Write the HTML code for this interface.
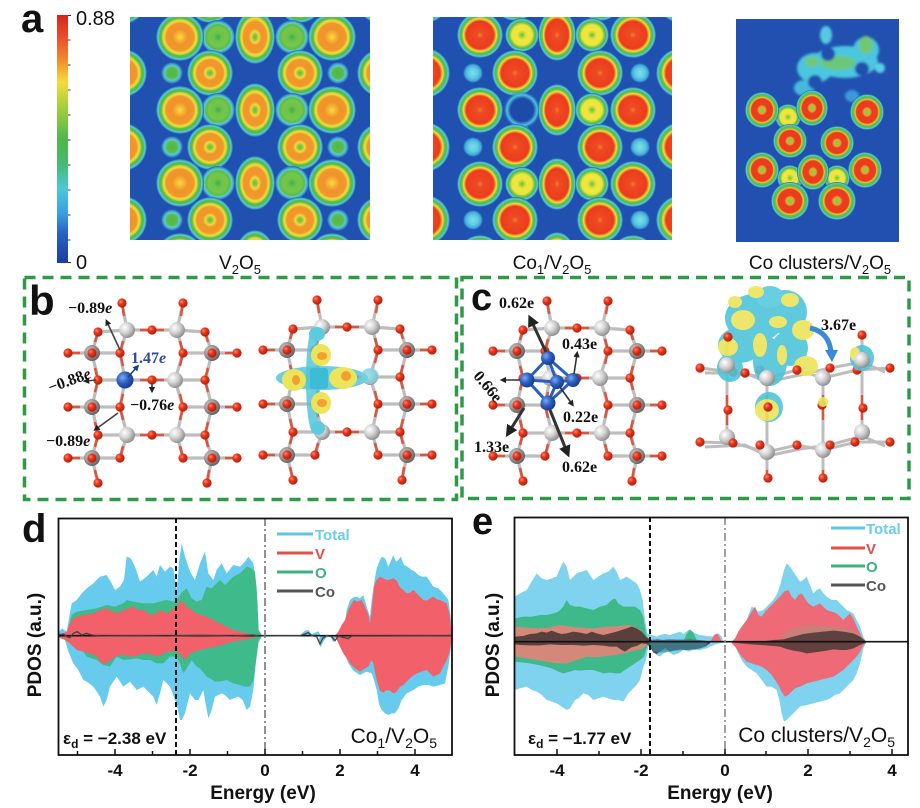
<!DOCTYPE html>
<html><head><meta charset="utf-8"><style>
html,body{margin:0;padding:0;background:#fff;}
svg{display:block;}
.sans{font-family:"Liberation Sans",Arial,sans-serif;}
.serif{font-family:"Liberation Serif","Times New Roman",serif;}
</style></head><body>
<svg width="920" height="808" viewBox="0 0 920 808" xmlns="http://www.w3.org/2000/svg">
<defs>
<linearGradient id="cbar" x1="0" y1="0" x2="0" y2="1">
<stop offset="0" stop-color="#d8241c"/><stop offset=".08" stop-color="#e8482a"/><stop offset=".18" stop-color="#f08a2c"/><stop offset=".27" stop-color="#f5dc3a"/><stop offset=".37" stop-color="#a6cf3c"/><stop offset=".5" stop-color="#4eb84a"/><stop offset=".6" stop-color="#46ba70"/><stop offset=".7" stop-color="#4cc8d8"/><stop offset=".8" stop-color="#3a9ede"/><stop offset=".88" stop-color="#2662c2"/><stop offset="1" stop-color="#1c3e9e"/>
</linearGradient>
<radialGradient id="gA"><stop offset="0" stop-color="#f6df3c"/><stop offset=".18" stop-color="#f4b232"/><stop offset=".33" stop-color="#f0922c"/><stop offset=".58" stop-color="#f0982c"/><stop offset=".66" stop-color="#f6d838"/><stop offset=".72" stop-color="#c8d83c"/><stop offset=".78" stop-color="#5cbc48"/><stop offset=".86" stop-color="#4cbd5a"/><stop offset=".91" stop-color="#5ad0d0"/><stop offset=".97" stop-color="#3a8ad0"/><stop offset="1" stop-color="#2051b0"/></radialGradient>
<radialGradient id="gD"><stop offset="0" stop-color="#58bc48"/><stop offset=".12" stop-color="#9ccd3c"/><stop offset=".2" stop-color="#f4d83a"/><stop offset=".32" stop-color="#f0962c"/><stop offset=".58" stop-color="#f0982c"/><stop offset=".66" stop-color="#f6d838"/><stop offset=".72" stop-color="#c8d83c"/><stop offset=".78" stop-color="#5cbc48"/><stop offset=".86" stop-color="#4cbd5a"/><stop offset=".91" stop-color="#5ad0d0"/><stop offset=".97" stop-color="#3a8ad0"/><stop offset="1" stop-color="#2051b0"/></radialGradient>
<radialGradient id="gB"><stop offset="0" stop-color="#3fae48"/><stop offset=".25" stop-color="#6cc44a"/><stop offset=".55" stop-color="#74c64a"/><stop offset=".72" stop-color="#5cbc48"/><stop offset=".82" stop-color="#5ad0cc"/><stop offset=".94" stop-color="#3a8ad0"/><stop offset="1" stop-color="#2051b0"/></radialGradient>
<radialGradient id="gC"><stop offset="0" stop-color="#4cb848"/><stop offset=".5" stop-color="#5cbc4a"/><stop offset=".68" stop-color="#58cccc"/><stop offset=".88" stop-color="#3a8ad0"/><stop offset="1" stop-color="#2051b0"/></radialGradient>
<radialGradient id="gR"><stop offset="0" stop-color="#f07a30"/><stop offset=".15" stop-color="#ee4a22"/><stop offset=".6" stop-color="#ec3c1e"/><stop offset=".67" stop-color="#f4a030"/><stop offset=".72" stop-color="#f2e03a"/><stop offset=".78" stop-color="#6cc248"/><stop offset=".86" stop-color="#4cbc5c"/><stop offset=".92" stop-color="#5ad0d0"/><stop offset=".97" stop-color="#3a8ad0"/><stop offset="1" stop-color="#2051b0"/></radialGradient>
<radialGradient id="gY"><stop offset="0" stop-color="#5cbc48"/><stop offset=".15" stop-color="#b8d83c"/><stop offset=".3" stop-color="#f0e63c"/><stop offset=".6" stop-color="#eee43c"/><stop offset=".7" stop-color="#8ccc44"/><stop offset=".8" stop-color="#4cb85a"/><stop offset=".9" stop-color="#5ad0d0"/><stop offset="1" stop-color="#2051b0"/></radialGradient>
<radialGradient id="gCs"><stop offset="0" stop-color="#80dcea"/><stop offset=".5" stop-color="#5ccde0"/><stop offset=".8" stop-color="#40a8dc"/><stop offset="1" stop-color="#2051b0"/></radialGradient>
<radialGradient id="gK"><stop offset="0" stop-color="#8ccc40"/><stop offset=".12" stop-color="#8ccc40"/><stop offset=".2" stop-color="#f4a030"/><stop offset=".3" stop-color="#ec3c1e"/><stop offset=".62" stop-color="#ec3c1e"/><stop offset=".7" stop-color="#f4c434"/><stop offset=".76" stop-color="#6cc248"/><stop offset=".86" stop-color="#4cbc5c"/><stop offset=".93" stop-color="#5ad0d0"/><stop offset="1" stop-color="#2051b0"/></radialGradient>
<radialGradient id="gH"><stop offset="0" stop-color="#1e4aa8"/><stop offset=".6" stop-color="#1e4aa8"/><stop offset=".8" stop-color="#4cc4e0"/><stop offset="1" stop-color="#2051b0" stop-opacity="0"/></radialGradient>
<radialGradient id="gO" cx=".35" cy=".35" r=".7"><stop offset="0" stop-color="#ff8a6a"/><stop offset=".4" stop-color="#e8361c"/><stop offset="1" stop-color="#b01a08"/></radialGradient>
<radialGradient id="gV" cx=".35" cy=".35" r=".7"><stop offset="0" stop-color="#ffffff"/><stop offset=".5" stop-color="#d0d0d0"/><stop offset="1" stop-color="#8a8a8a"/></radialGradient>
<radialGradient id="gVd" cx=".35" cy=".35" r=".7"><stop offset="0" stop-color="#c8c8c8"/><stop offset=".5" stop-color="#9a9a9a"/><stop offset="1" stop-color="#5e5e5e"/></radialGradient>
<radialGradient id="gCo" cx=".35" cy=".35" r=".7"><stop offset="0" stop-color="#7aaaf0"/><stop offset=".5" stop-color="#2c5ec0"/><stop offset="1" stop-color="#163a8c"/></radialGradient>
<filter id="blur2"><feGaussianBlur stdDeviation="1.4"/></filter>
<marker id="ah" viewBox="0 0 10 10" refX="5" refY="5" markerWidth="4" markerHeight="4" orient="auto"><path d="M0,0 L10,5 L0,10 z" fill="#222"/></marker>
<marker id="ahb" viewBox="0 0 10 10" refX="5" refY="5" markerWidth="4" markerHeight="4" orient="auto"><path d="M0,0 L10,5 L0,10 z" fill="#1d3f8a"/></marker>

<circle id="o" r="4.6" fill="url(#gO)"/>
<circle id="v" r="8" fill="url(#gV)"/>
<circle id="vd" r="8" fill="url(#gVd)"/>

<g id="m1r1">
<circle cx="88" cy="0" r="17" fill="url(#gB)"/><circle cx="162" cy="0" r="17" fill="url(#gB)"/>
<circle cx="50" cy="0" r="24" fill="url(#gA)"/><ellipse cx="125" cy="0" rx="20" ry="27" fill="url(#gD)"/><circle cx="202" cy="0" r="24" fill="url(#gA)"/>
</g>
<g id="m1r2">
<circle cx="42" cy="0" r="11" fill="url(#gC)"/><circle cx="208" cy="0" r="11" fill="url(#gC)"/>
<circle cx="-7" cy="0" r="24" fill="url(#gA)"/><circle cx="80" cy="0" r="23" fill="url(#gD)"/><circle cx="170" cy="0" r="23" fill="url(#gD)"/><circle cx="251" cy="0" r="24" fill="url(#gA)"/>
</g>
<g id="m2r1">
<circle cx="89" cy="0" r="17" fill="url(#gY)"/><circle cx="159" cy="0" r="17" fill="url(#gY)"/>
<circle cx="47" cy="0" r="23" fill="url(#gR)"/><ellipse cx="124" cy="0" rx="19" ry="26" fill="url(#gR)"/><circle cx="200" cy="0" r="23" fill="url(#gR)"/>
</g>
<g id="m2r1h">
<circle cx="159" cy="0" r="17" fill="url(#gY)"/>
<circle cx="89" cy="0" r="19" fill="url(#gH)"/>
<circle cx="47" cy="0" r="23" fill="url(#gR)"/><ellipse cx="124" cy="0" rx="19" ry="26" fill="url(#gR)"/><circle cx="200" cy="0" r="23" fill="url(#gR)"/>
</g>
<g id="m2r2">
<circle cx="40" cy="0" r="10" fill="url(#gCs)"/><circle cx="207" cy="0" r="10" fill="url(#gCs)"/>
<circle cx="-8" cy="0" r="25" fill="url(#gR)"/><circle cx="82" cy="0" r="23" fill="url(#gR)"/><circle cx="167" cy="0" r="23" fill="url(#gR)"/><circle cx="248" cy="0" r="25" fill="url(#gR)"/>
</g>

<g id="lat">
<g fill="none" stroke="#bdbdbd" stroke-width="3.2" stroke-linejoin="round">
<path d="M98 332 L92 353 L98 380 L92 407 L98 435 L92 458 L98 483"/>
<path d="M122 303 L127 330 L120 353 L125 380 L120 407 L127 435 L120 458"/>
<path d="M183 303 L177 330 L183 353 L175 380 L183 407 L177 435 L183 458"/>
<path d="M205 332 L212 353 L205 380 L212 407 L205 435 L212 458 L207 483"/>
<path d="M98 332 L127 330 L152 330 L177 330 L205 332"/>
<path d="M68 353 L120 353 M183 353 L237 353"/>
<path d="M98 380 L205 380"/>
<path d="M68 407 L120 407 M183 407 L237 407"/>
<path d="M98 435 L205 435"/>
<path d="M68 458 L120 458 M183 458 L237 458"/>
</g>
<g fill="none" stroke="#e0442a" stroke-width="2.6" opacity=".85">
<path d="M98 332 L95 342 M98 380 L95 368 M98 380 L95 392 M98 435 L95 422 M98 435 L95 447 M98 483 L95 470"/>
<path d="M205 332 L208 342 M205 380 L208 368 M205 380 L208 392 M205 435 L208 422 M205 435 L208 447 M207 483 L209 470"/>
<path d="M120 353 L123 341 M120 353 L123 366 M120 407 L123 394 M120 407 L123 420 M120 458 L123 446 M122 303 L124 316"/>
<path d="M183 353 L180 341 M183 353 L180 366 M183 407 L180 394 M183 407 L180 420 M183 458 L180 446 M183 303 L181 316"/>
<path d="M152 330 L140 330 M152 330 L164 330 M152 380 L140 380 M152 380 L164 380 M152 435 L140 435 M152 435 L164 435"/>
<path d="M68 353 L80 353 M68 407 L80 407 M68 458 L80 458 M237 353 L225 353 M237 407 L225 407 M237 458 L225 458"/>
</g>
<use href="#v" x="127" y="330"/><use href="#v" x="177" y="330"/><use href="#v" x="125" y="380"/><use href="#v" x="175" y="380"/><use href="#v" x="127" y="435"/><use href="#v" x="177" y="435"/>
<use href="#vd" x="92" y="353"/><use href="#vd" x="212" y="353"/><use href="#vd" x="92" y="407"/><use href="#vd" x="212" y="407"/><use href="#vd" x="92" y="458"/><use href="#vd" x="212" y="458"/>
<use href="#o" x="92" y="353"/><use href="#o" x="212" y="353"/><use href="#o" x="92" y="407"/><use href="#o" x="212" y="407"/><use href="#o" x="92" y="458"/><use href="#o" x="212" y="458"/>
<use href="#o" x="122" y="303"/><use href="#o" x="183" y="303"/>
<use href="#o" x="98" y="332"/><use href="#o" x="152" y="330"/><use href="#o" x="205" y="332"/>
<use href="#o" x="68" y="353"/><use href="#o" x="120" y="353"/><use href="#o" x="183" y="353"/><use href="#o" x="237" y="353"/>
<use href="#o" x="98" y="380"/><use href="#o" x="152" y="380"/><use href="#o" x="205" y="380"/>
<use href="#o" x="68" y="407"/><use href="#o" x="120" y="407"/><use href="#o" x="183" y="407"/><use href="#o" x="237" y="407"/>
<use href="#o" x="98" y="435"/><use href="#o" x="152" y="435"/><use href="#o" x="205" y="435"/>
<use href="#o" x="68" y="458"/><use href="#o" x="120" y="458"/><use href="#o" x="183" y="458"/><use href="#o" x="237" y="458"/>
<use href="#o" x="98" y="483"/><use href="#o" x="207" y="483"/>
</g>

<clipPath id="cp1"><rect x="130" y="17" width="240" height="223"/></clipPath>
<clipPath id="cp2"><rect x="433" y="17" width="239" height="223"/></clipPath>
<clipPath id="cp3"><rect x="736" y="19" width="163" height="223"/></clipPath>
<clipPath id="cpd"><rect x="175" y="55" width="1182" height="710"/></clipPath>
<clipPath id="cpe"><rect x="163" y="50" width="1182" height="715"/></clipPath>
</defs>

<rect width="920" height="808" fill="#fff"/>

<!-- ===== Panel a ===== -->
<text x="21" y="32" class="sans" font-size="40" font-weight="bold" fill="#111">a</text>
<rect x="57" y="15" width="11" height="248" fill="url(#cbar)"/>
<g stroke="#333" stroke-width="1">
<line x1="68" y1="15.5" x2="71" y2="15.5"/><line x1="68" y1="40" x2="70.5" y2="40"/><line x1="68" y1="65" x2="70.5" y2="65"/><line x1="68" y1="90" x2="70.5" y2="90"/><line x1="68" y1="115" x2="70.5" y2="115"/><line x1="68" y1="140" x2="70.5" y2="140"/><line x1="68" y1="165" x2="70.5" y2="165"/><line x1="68" y1="190" x2="70.5" y2="190"/><line x1="68" y1="215" x2="70.5" y2="215"/><line x1="68" y1="240" x2="70.5" y2="240"/><line x1="68" y1="262.5" x2="71" y2="262.5"/>
</g>
<text x="76" y="25" class="sans" font-size="20" fill="#111">0.88</text>
<text x="76" y="269" class="sans" font-size="20" fill="#111">0</text>

<g clip-path="url(#cp1)">
<rect x="130" y="17" width="240" height="223" fill="#2051b0"/>
<g transform="translate(130,17)">
<use href="#m1r2" y="-17"/><use href="#m1r1" y="20"/><use href="#m1r2" y="56"/><use href="#m1r1" y="93"/><use href="#m1r2" y="130"/><use href="#m1r1" y="166"/><use href="#m1r2" y="203"/><use href="#m1r1" y="240"/>
</g>
</g>

<g clip-path="url(#cp2)">
<rect x="433" y="17" width="239" height="223" fill="#2051b0"/>
<g transform="translate(433,17)">
<path d="M100 93 L112 93 M89 80 L100 65 M89 106 L100 118" stroke="#4cc4e0" stroke-width="3" opacity=".7"/>
<use href="#m2r2" y="-19"/><use href="#m2r1" y="18"/><use href="#m2r2" y="56"/><use href="#m2r1h" y="93"/><use href="#m2r2" y="130"/><use href="#m2r1" y="167"/><use href="#m2r2" y="203"/><use href="#m2r1" y="241"/>
</g>
</g>

<g clip-path="url(#cp3)">
<rect x="736" y="19" width="163" height="223" fill="#2150b0"/>
<g filter="url(#blur2)">
<ellipse cx="845" cy="62" rx="33" ry="16" fill="#4cc6df"/>
<ellipse cx="815" cy="68" rx="18" ry="15" fill="#4cc6df"/>
<ellipse cx="866" cy="50" rx="13" ry="13" fill="#4cc6df"/>
<ellipse cx="826" cy="35" rx="6" ry="9" fill="#56c8e0"/>
<ellipse cx="804" cy="88" rx="10" ry="8" fill="#44b8dc"/>
<ellipse cx="880" cy="68" rx="5" ry="5" fill="#5ad0e4"/>
<ellipse cx="852" cy="96" rx="7" ry="6" fill="#3a9ad8"/>
<ellipse cx="838" cy="63" rx="18" ry="7" fill="#6cc878"/>
<ellipse cx="866" cy="45" rx="7" ry="9" fill="#72c870"/>
<ellipse cx="812" cy="62" rx="7" ry="5" fill="#72c870"/>
<circle cx="828" cy="54" r="7" fill="#2150b0"/>
<circle cx="815" cy="82" r="7" fill="#2150b0"/>
<circle cx="862" cy="69" r="7" fill="#2150b0"/>
</g>
<circle cx="788" cy="117" r="13" fill="url(#gY)"/><circle cx="790" cy="178" r="13" fill="url(#gY)"/><circle cx="837" cy="178" r="13" fill="url(#gY)"/>
<ellipse cx="762" cy="110" rx="17" ry="18" fill="url(#gK)"/><ellipse cx="812" cy="108" rx="16" ry="18" fill="url(#gK)"/><ellipse cx="867" cy="112" rx="17" ry="18" fill="url(#gK)"/>
<ellipse cx="790" cy="141" rx="17" ry="17" fill="url(#gK)"/><ellipse cx="837" cy="143" rx="17" ry="17" fill="url(#gK)"/>
<ellipse cx="762" cy="170" rx="17" ry="18" fill="url(#gK)"/><ellipse cx="813" cy="172" rx="16" ry="18" fill="url(#gK)"/><ellipse cx="865" cy="170" rx="17" ry="18" fill="url(#gK)"/>
<ellipse cx="790" cy="201" rx="19" ry="19" fill="url(#gK)"/><ellipse cx="837" cy="201" rx="19" ry="19" fill="url(#gK)"/>
</g>

<text x="240" y="269" class="sans" font-size="19" fill="#111" text-anchor="middle">V<tspan font-size="13" dy="5">2</tspan><tspan dy="-5">O</tspan><tspan font-size="13" dy="5">5</tspan></text>
<text x="552" y="269" class="sans" font-size="19" fill="#111" text-anchor="middle">Co<tspan font-size="13" dy="5">1</tspan><tspan dy="-5">/V</tspan><tspan font-size="13" dy="5">2</tspan><tspan dy="-5">O</tspan><tspan font-size="13" dy="5">5</tspan></text>
<text x="820" y="269" class="sans" font-size="19" fill="#111" text-anchor="middle">Co clusters/V<tspan font-size="13" dy="5">2</tspan><tspan dy="-5">O</tspan><tspan font-size="13" dy="5">5</tspan></text>

<!-- ===== Panels b, c boxes ===== -->
<rect x="24.5" y="277.5" width="432" height="222" fill="none" stroke="#2e9a48" stroke-width="3.5" stroke-dasharray="11 7"/>
<rect x="462" y="277.5" width="447" height="221" fill="none" stroke="#2e9a48" stroke-width="3.5" stroke-dasharray="11 7"/>

<text x="29" y="315" class="sans" font-size="42" font-weight="bold" fill="#111">b</text>
<text x="471" y="310" class="sans" font-size="38" font-weight="bold" fill="#111">c</text>

<!-- b-left -->
<use href="#lat"/>
<circle cx="125" cy="380" r="8.5" fill="url(#gCo)"/>
<g stroke-width="1.6" fill="none">
<line x1="120" y1="350" x2="107" y2="322" stroke="#444" marker-end="url(#ah)"/>
<line x1="128" y1="377" x2="137" y2="367" stroke="#1d3f8a" marker-end="url(#ahb)"/>
<line x1="96" y1="380" x2="86" y2="381" stroke="#444" marker-end="url(#ah)"/>
<line x1="152" y1="383" x2="152" y2="390" stroke="#444" marker-end="url(#ah)"/>
<line x1="118" y1="413" x2="96" y2="429" stroke="#444" marker-end="url(#ah)"/>
</g>
<g class="serif" font-size="16" font-weight="bold" fill="#111">
<text x="68" y="313">−0.89<tspan font-style="italic">e</tspan></text>
<text x="131" y="363" fill="#2b4aa0">1.47<tspan font-style="italic">e</tspan></text>
<text x="47" y="386" transform="rotate(-20 68 380)">−0.88<tspan font-style="italic">e</tspan></text>
<text x="130" y="410">−0.76<tspan font-style="italic">e</tspan></text>
<text x="46" y="446">−0.89<tspan font-style="italic">e</tspan></text>
</g>

<!-- b-right -->
<use href="#lat" transform="translate(195,-3)"/>
<g>
<ellipse cx="322" cy="378" rx="46" ry="12" fill="#52c6da" opacity=".85"/>
<ellipse cx="313" cy="380" rx="7" ry="52" fill="#52c6da" opacity=".85"/>
<ellipse cx="317" cy="334" rx="8" ry="7" fill="#5ccbe0"/>
<ellipse cx="318" cy="428" rx="7" ry="7" fill="#5ccbe0"/>
<ellipse cx="370" cy="376" rx="9" ry="8" fill="#78d4e4" opacity=".7"/>
<ellipse cx="294" cy="380" rx="12" ry="11" fill="#ece45a"/>
<ellipse cx="343" cy="378" rx="14" ry="11" fill="#ece45a"/>
<ellipse cx="321" cy="355" rx="10" ry="11" fill="#ece45a"/>
<ellipse cx="321" cy="403" rx="10" ry="11" fill="#ece45a"/>
<ellipse cx="296" cy="380" rx="4" ry="5" fill="#f2a030"/>
<ellipse cx="346" cy="376" rx="5" ry="5" fill="#f2a030"/>
<ellipse cx="322" cy="356" rx="5" ry="4" fill="#f2a030"/>
<ellipse cx="322" cy="403" rx="5" ry="4" fill="#f2a030"/>
<rect x="310" y="368" width="18" height="21" rx="3" fill="#3cbcd6"/>
</g>

<!-- c-left -->
<use href="#lat" transform="translate(425,-2)"/>
<g stroke="#2a5fbe" stroke-width="3" fill="none">
<path d="M548 358 L527 380 L548 403 L573 380 Z M548 358 L557 382 L548 403 M527 380 L557 382 L573 380"/>
</g>
<circle cx="548" cy="358" r="7" fill="url(#gCo)"/><circle cx="527" cy="380" r="7.5" fill="url(#gCo)"/><circle cx="557" cy="382" r="7" fill="url(#gCo)"/><circle cx="573" cy="380" r="7" fill="url(#gCo)"/><circle cx="548" cy="403" r="7.5" fill="url(#gCo)"/>
<g fill="none">
<line x1="546" y1="352" x2="531" y2="320" stroke="#333" stroke-width="3" marker-end="url(#ah)"/>
<line x1="574" y1="374" x2="577" y2="354" stroke="#333" stroke-width="1.6" marker-end="url(#ah)"/>
<line x1="520" y1="380" x2="503" y2="380" stroke="#333" stroke-width="1.6" marker-end="url(#ah)"/>
<line x1="560" y1="387" x2="572" y2="404" stroke="#333" stroke-width="1.6" marker-end="url(#ah)"/>
<line x1="524" y1="408" x2="509" y2="432" stroke="#333" stroke-width="3" marker-end="url(#ah)"/>
<line x1="550" y1="410" x2="567" y2="452" stroke="#333" stroke-width="3" marker-end="url(#ah)"/>
</g>
<g class="serif" font-size="16" font-weight="bold" fill="#111">
<text x="499" y="308">0.62e</text>
<text x="562" y="349">0.43e</text>
<text x="470" y="392" transform="rotate(50 488 387)">0.66e</text>
<text x="563" y="422">0.22e</text>
<text x="474" y="452">1.33e</text>
<text x="562" y="472">0.62e</text>
</g>

<!-- c-right side view -->
<g fill="none" stroke="#bdbdbd" stroke-width="3">
<path d="M727 337 L727 437 M767 378 L767 478 M823 378 L823 478 M862 335 L862 432"/>
<path d="M700 368 L733 372 L767 378 L797 370 L823 378 L857 370 L890 368"/>
<path d="M705 373 L745 373 L767 382 L800 375 L830 368 L862 362 L885 372"/>
<path d="M700 442 L733 443 L767 452 L797 445 L823 450 L857 442 L890 442"/>
<path d="M705 447 L745 445 L767 456 L800 449 L830 445 L862 436 L885 446"/>
</g>
<g fill="none" stroke="#e0442a" stroke-width="2.4" opacity=".85">
<path d="M727 395 L727 425 M767 395 L767 420 M823 395 L823 420 M862 395 L862 420 M767 470 L767 478 M823 470 L823 478"/>
</g>
<use href="#v" x="727" y="365"/><use href="#v" x="767" y="378"/><use href="#v" x="823" y="378"/><use href="#v" x="862" y="360"/>
<use href="#v" x="727" y="437"/><use href="#v" x="767" y="452"/><use href="#v" x="823" y="450"/><use href="#v" x="862" y="432"/>
<use href="#o" x="728" y="337"/><use href="#o" x="862" y="335"/><use href="#o" x="700" y="368"/><use href="#o" x="733" y="372"/><use href="#o" x="745" y="373"/><use href="#o" x="760" y="370"/><use href="#o" x="797" y="370"/><use href="#o" x="830" y="368"/><use href="#o" x="857" y="370"/><use href="#o" x="890" y="368"/>
<use href="#o" x="728" y="410"/><use href="#o" x="768" y="407"/><use href="#o" x="822" y="405"/><use href="#o" x="863" y="408"/>
<use href="#o" x="700" y="442"/><use href="#o" x="733" y="443"/><use href="#o" x="760" y="445"/><use href="#o" x="797" y="445"/><use href="#o" x="830" y="445"/><use href="#o" x="855" y="442"/><use href="#o" x="890" y="442"/>
<use href="#o" x="768" y="478"/><use href="#o" x="823" y="478"/>
<g opacity=".9">
<ellipse cx="755" cy="318" rx="30" ry="24" fill="#4ec4da"/>
<ellipse cx="785" cy="312" rx="22" ry="22" fill="#4ec4da"/>
<ellipse cx="770" cy="297" rx="14" ry="11" fill="#58cade"/>
<ellipse cx="740" cy="345" rx="22" ry="18" fill="#4ec4da"/>
<ellipse cx="730" cy="368" rx="13" ry="14" fill="#4ec4da"/>
<ellipse cx="790" cy="348" rx="18" ry="18" fill="#4ec4da"/>
<ellipse cx="770" cy="362" rx="17" ry="24" fill="#4ec4da"/>
<ellipse cx="769" cy="407" rx="14" ry="15" fill="#4ec4da"/>
<ellipse cx="743" cy="320" rx="12" ry="10" fill="#ece45a"/>
<ellipse cx="728" cy="347" rx="10" ry="9" fill="#ece45a"/>
<ellipse cx="803" cy="330" rx="11" ry="10" fill="#ece45a"/>
<ellipse cx="806" cy="366" rx="12" ry="10" fill="#ece45a"/>
<ellipse cx="767" cy="410" rx="12" ry="11" fill="#ece45a"/>
<ellipse cx="790" cy="300" rx="9" ry="7" fill="#ece45a"/>
<ellipse cx="756" cy="292" rx="8" ry="6" fill="#ece45a"/>
<ellipse cx="760" cy="345" rx="7" ry="12" fill="#ece45a"/>
<ellipse cx="778" cy="322" rx="9" ry="6" fill="#ece45a"/>
<ellipse cx="735" cy="302" rx="7" ry="6" fill="#ece45a"/>
<ellipse cx="782" cy="355" rx="5" ry="10" fill="#ece45a"/>
<ellipse cx="862" cy="358" rx="12" ry="13" fill="#4ec4da"/>
<ellipse cx="855" cy="354" rx="5" ry="7" fill="#ece45a"/>
<ellipse cx="823" cy="402" rx="5" ry="5" fill="#ece45a"/>
</g>
<use href="#v" x="767" y="378"/><use href="#v" x="727" y="365"/><use href="#o" x="728" y="337"/><use href="#o" x="768" y="407"/><use href="#o" x="745" y="373"/><use href="#o" x="797" y="370"/><use href="#v" x="862" y="360"/>
<path d="M810 328 Q829 332 831 352" fill="none" stroke="#3a8ad8" stroke-width="5"/>
<path d="M825 350 L838 350 L832 362 Z" fill="#3a8ad8"/>
<text x="821" y="330" class="serif" font-size="16" font-weight="bold" fill="#111">3.67e</text>

<!-- ===== Panel d ===== -->
<text x="22" y="542" class="sans" font-size="40" font-weight="bold" fill="#111">d</text>
<g transform="translate(0,500) scale(0.333333)" clip-path="url(#cpd)">
<polygon fill="#66cbec" points="175,400 185,385 200,395 215,310 230,300 245,280 260,265 280,250 300,230 320,225 335,250 345,270 360,260 372,240 380,170 392,175 405,200 420,245 440,230 460,210 470,230 480,195 495,215 510,200 520,205 530,270 538,180 545,130 555,170 570,215 585,240 600,190 615,155 625,220 640,240 650,210 665,190 680,220 700,195 720,200 735,185 745,170 760,190 770,260 775,390 785,405 785,410 775,430 770,460 760,570 750,620 740,630 728,600 715,590 700,595 690,600 675,585 665,580 645,590 635,630 625,655 615,600 610,570 595,600 585,600 570,580 555,640 545,660 540,660 530,610 525,600 510,560 490,540 480,580 470,615 460,590 450,580 430,560 410,570 390,545 370,560 350,530 330,560 320,600 310,620 300,590 280,560 260,545 250,540 235,510 220,490 205,455 195,420 180,415 175,412"/>
<polygon fill="#3fba8a" points="175,405 200,400 215,345 230,335 260,330 290,325 320,315 345,320 370,310 380,300 400,305 430,310 460,310 480,305 500,300 520,305 530,300 540,285 548,275 560,265 575,295 590,305 605,300 620,260 635,265 650,250 660,240 675,255 690,240 700,230 720,220 740,200 755,205 765,215 772,300 776,390 785,405 785,410 776,420 770,470 760,540 750,560 735,560 720,555 700,550 680,540 660,545 645,545 630,535 620,530 600,505 590,500 575,480 560,505 550,520 540,490 530,470 510,470 490,490 470,490 450,480 430,480 410,475 390,478 370,480 350,470 330,500 310,495 290,480 260,470 230,425 200,420 175,410"/>
<polygon fill="#f2606a" points="175,405 190,400 200,395 215,360 230,350 250,345 280,340 300,330 320,325 340,335 350,340 370,330 385,325 400,320 415,330 430,330 445,340 460,345 480,330 500,340 515,330 530,320 545,300 560,320 575,330 590,340 605,345 620,350 640,360 660,370 680,380 700,390 720,395 740,400 760,403 780,406 780,409 760,412 740,418 720,422 700,425 680,430 660,437 640,442 620,445 600,450 585,455 570,460 555,480 545,470 530,450 515,455 500,455 485,465 470,470 450,462 430,460 410,468 390,470 370,465 350,468 335,478 320,490 305,490 290,470 270,460 250,455 230,450 210,430 195,420 175,410"/>
<polygon fill="#66cbec" points="900,407 908,398 915,392 925,390 935,402 945,398 955,394 962,407 955,420 962,442 970,425 980,412 992,410 1000,428 1008,410 1000,407"/>
<polygon fill="#66cbec" points="1030,407 1040,330 1050,300 1060,292 1070,290 1080,295 1090,285 1100,320 1110,350 1115,300 1122,250 1130,205 1138,185 1145,170 1155,175 1165,200 1172,185 1180,165 1188,185 1195,180 1202,170 1212,195 1222,200 1235,210 1245,215 1255,225 1265,230 1280,230 1290,245 1300,260 1315,265 1325,275 1338,290 1345,300 1352,350 1357,400 1357,415 1350,460 1345,500 1335,550 1320,555 1300,560 1285,555 1270,555 1255,560 1240,570 1220,580 1205,600 1195,625 1185,640 1175,640 1165,645 1155,640 1145,630 1138,615 1130,570 1122,540 1115,520 1100,515 1080,525 1060,512 1045,490 1035,460 1030,420"/>
<polygon fill="#f2606a" points="1005,407 1015,395 1025,375 1035,360 1045,330 1055,310 1062,300 1072,305 1085,300 1095,320 1105,345 1110,370 1116,320 1122,260 1130,240 1140,230 1150,235 1160,240 1170,238 1180,235 1190,242 1200,262 1210,270 1220,280 1230,278 1240,270 1250,280 1260,290 1270,300 1280,302 1290,295 1300,290 1310,298 1320,300 1330,305 1340,310 1348,340 1355,400 1355,415 1348,460 1340,480 1330,500 1320,520 1310,525 1300,530 1290,520 1280,510 1265,515 1250,520 1235,530 1220,545 1210,555 1200,560 1190,575 1180,580 1170,572 1160,570 1150,578 1140,572 1130,540 1120,490 1115,480 1105,500 1095,505 1080,515 1065,505 1050,490 1040,475 1030,460 1020,440 1010,418"/>
<line x1="175" y1="407" x2="1357" y2="407" stroke="#111" stroke-width="5"/>
<polyline fill="none" stroke="#444" stroke-width="4" points="175,405 190,402 200,410 210,413 220,400 232,395 245,405 260,400 275,405 300,408 400,407 500,408 600,406 700,408 760,405 775,408 900,407 915,402 925,398 935,407 950,410 960,432 968,415 980,407 995,410 1005,422 1015,408 1030,412 1045,416 1055,408 1357,407"/>
</g>
<line x1="176" y1="518" x2="176" y2="755" stroke="#111" stroke-width="2" stroke-dasharray="5 3"/>
<line x1="265" y1="518" x2="265" y2="755" stroke="#777" stroke-width="1.6" stroke-dasharray="8 3 2 3"/>
<rect x="58.5" y="518.5" width="393.5" height="236.5" fill="none" stroke="#111" stroke-width="1.8"/>
<g stroke="#111" stroke-width="1.5">
<line x1="115" y1="755" x2="115" y2="749"/><line x1="190" y1="755" x2="190" y2="749"/><line x1="265" y1="755" x2="265" y2="749"/><line x1="340" y1="755" x2="340" y2="749"/><line x1="415" y1="755" x2="415" y2="749"/>
<line x1="77.5" y1="755" x2="77.5" y2="751"/><line x1="152.5" y1="755" x2="152.5" y2="751"/><line x1="227.5" y1="755" x2="227.5" y2="751"/><line x1="302.5" y1="755" x2="302.5" y2="751"/><line x1="377.5" y1="755" x2="377.5" y2="751"/>
</g>
<g class="sans" font-size="17" font-weight="bold" fill="#111" text-anchor="middle">
<text x="115" y="776">-4</text><text x="190" y="776">-2</text><text x="265" y="776">0</text><text x="340" y="776">2</text><text x="415" y="776">4</text>
<text x="263" y="799" font-size="19">Energy (eV)</text>
<text transform="translate(41,645) rotate(-90)" font-size="19">PDOS (a.u.)</text>
</g>
<g stroke-width="3">
<line x1="277" y1="534" x2="313" y2="534" stroke="#62c6e2"/>
<line x1="277" y1="553" x2="313" y2="553" stroke="#e2504a"/>
<line x1="277" y1="572" x2="313" y2="572" stroke="#3fb07e"/>
<line x1="277" y1="591" x2="313" y2="591" stroke="#555"/>
</g>
<g class="sans" font-size="15" font-weight="bold">
<text x="315" y="540" fill="#6ccbe5">Total</text>
<text x="315" y="559" fill="#e2504a">V</text>
<text x="315" y="578" fill="#3fb07e">O</text>
<text x="315" y="597" fill="#555">Co</text>
</g>
<text x="63" y="744" class="sans" font-size="17" font-weight="bold" fill="#111">ε<tspan font-size="12" dy="4">d</tspan><tspan dy="-4"> = −2.38 eV</tspan></text>
<text x="437" y="743" class="sans" font-size="21" fill="#111" text-anchor="end">Co<tspan font-size="14" dy="5">1</tspan><tspan dy="-5">/V</tspan><tspan font-size="14" dy="5">2</tspan><tspan dy="-5">O</tspan><tspan font-size="14" dy="5">5</tspan></text>

<!-- ===== Panel e ===== -->
<text x="472" y="534" class="sans" font-size="38" font-weight="bold" fill="#111">e</text>
<g transform="translate(460,500) scale(0.333333)" clip-path="url(#cpe)">
<polygon fill="#7fd3ef" points="165,290 180,280 200,270 215,245 230,220 245,235 260,240 275,235 290,230 300,205 310,185 320,200 330,240 340,230 350,220 365,215 380,210 390,225 400,240 415,230 430,220 445,215 460,200 470,215 480,240 490,235 500,230 515,240 530,250 540,270 548,300 555,360 562,400 575,405 590,410 600,405 615,402 630,405 645,400 660,395 670,402 685,390 695,395 705,400 720,405 740,408 760,410 775,400 785,410 790,425 790,428 770,432 750,440 740,445 720,450 700,450 685,455 670,450 655,460 640,465 625,455 610,460 600,470 590,465 575,450 565,440 558,480 550,500 540,540 530,555 515,570 505,580 490,605 475,600 460,600 445,595 430,590 415,595 400,600 385,585 370,580 355,595 345,600 330,625 320,630 305,620 290,610 275,605 260,600 245,585 230,575 215,570 200,560 180,565 165,570"/>
<polygon fill="#3fb98a" points="165,355 190,350 215,350 240,345 260,345 280,340 295,335 310,320 320,300 330,315 345,320 360,320 380,325 400,330 420,320 440,315 455,300 465,295 475,310 490,320 510,320 525,320 540,330 550,350 558,400 565,420 565,430 558,450 552,470 540,480 525,490 510,500 495,510 480,520 465,520 450,518 430,520 415,515 400,510 380,510 360,512 345,510 330,515 310,520 295,515 275,505 255,500 235,495 210,490 190,488 165,485"/>
<polygon fill="#3fb98a" points="670,425 680,402 690,388 700,398 712,425"/>
<polygon fill="#d4887a" points="165,380 200,383 240,385 270,382 300,375 330,380 360,383 400,385 440,380 480,378 510,375 540,388 555,410 565,425 565,430 550,445 530,450 500,458 470,465 440,468 410,472 380,470 350,480 320,490 290,490 260,485 230,480 200,475 165,470"/>
<polygon fill="#4e3a37" opacity=".92" points="165,410 190,408 210,402 230,400 245,395 260,398 275,392 290,398 305,402 320,400 340,395 360,398 380,402 395,395 410,400 430,405 450,400 470,395 485,390 500,385 515,380 530,385 545,395 560,412 575,420 590,418 610,420 630,418 650,420 670,420 690,418 710,420 730,422 750,425 750,430 735,440 720,445 700,448 680,450 665,448 645,450 630,455 615,445 600,455 590,462 580,458 570,440 560,432 545,430 530,438 515,442 505,448 495,455 485,450 470,440 450,440 430,437 400,435 370,437 340,435 300,435 270,433 240,436 210,436 180,435 165,433"/>
<polygon fill="#3a8aa0" opacity=".7" points="565,425 580,418 600,420 640,418 700,418 740,422 740,440 700,448 650,452 600,458 580,455"/>
<polygon fill="#ee6a76" points="752,425 762,405 772,400 780,415 786,425"/>
<polygon fill="#7fd3ef" points="830,425 840,420 860,360 875,320 885,325 895,335 910,330 925,315 940,300 952,280 962,250 972,210 980,190 990,200 1000,215 1010,230 1020,245 1030,240 1040,230 1050,255 1060,280 1070,270 1080,265 1090,280 1100,290 1115,300 1130,300 1145,315 1160,330 1170,335 1180,340 1190,360 1200,380 1210,410 1218,425 1218,430 1210,445 1200,490 1190,520 1180,540 1165,555 1150,570 1140,580 1125,585 1110,595 1100,600 1080,605 1060,610 1040,615 1020,620 1010,630 1000,640 990,650 980,660 972,665 965,640 958,600 950,570 935,560 920,560 905,540 890,520 875,510 860,500 845,480 830,450"/>
<polygon fill="#ee6a76" points="815,425 825,415 835,395 845,380 860,360 872,340 885,320 895,345 905,350 915,335 930,320 945,305 960,290 972,275 985,270 995,290 1005,300 1015,285 1025,280 1035,295 1045,310 1060,320 1070,315 1080,310 1090,320 1100,330 1115,335 1130,340 1140,350 1150,360 1160,350 1170,340 1180,355 1190,380 1200,400 1210,420 1218,425 1218,428 1210,435 1200,455 1190,470 1180,480 1165,495 1150,510 1135,520 1120,530 1100,535 1080,540 1060,545 1040,550 1020,560 1005,565 995,575 985,585 975,590 965,575 955,555 945,540 935,525 920,510 905,500 890,495 875,490 860,485 845,470 835,455 825,440 815,430"/>
<polygon fill="#c0847a" opacity=".8" points="960,410 990,390 1020,380 1060,376 1100,378 1140,382 1180,390 1210,415 1218,425 1180,420 1100,412 1000,418"/>
<polygon fill="#4e3a37" opacity=".88" points="820,425 860,428 900,425 940,420 970,418 1000,410 1030,402 1060,398 1090,395 1120,392 1150,395 1180,400 1200,410 1218,425 1218,428 1200,435 1180,445 1160,450 1140,450 1120,448 1100,452 1080,455 1060,458 1040,460 1020,455 1000,452 980,447 960,440 940,438 900,435 860,432 820,428"/>
<line x1="163" y1="425" x2="1345" y2="425" stroke="#111" stroke-width="5"/>
</g>
<line x1="650" y1="517" x2="650" y2="755" stroke="#111" stroke-width="2" stroke-dasharray="5 3"/>
<line x1="725" y1="517" x2="725" y2="755" stroke="#888" stroke-width="1.6" stroke-dasharray="8 3 2 3"/>
<rect x="514.5" y="517.5" width="393.5" height="237.5" fill="none" stroke="#111" stroke-width="1.8"/>
<g stroke="#111" stroke-width="1.5">
<line x1="557" y1="755" x2="557" y2="749"/><line x1="641" y1="755" x2="641" y2="749"/><line x1="725" y1="755" x2="725" y2="749"/><line x1="808" y1="755" x2="808" y2="749"/><line x1="892" y1="755" x2="892" y2="749"/>
<line x1="599" y1="755" x2="599" y2="751"/><line x1="683" y1="755" x2="683" y2="751"/><line x1="766" y1="755" x2="766" y2="751"/><line x1="850" y1="755" x2="850" y2="751"/>
</g>
<g class="sans" font-size="17" font-weight="bold" fill="#111" text-anchor="middle">
<text x="557" y="776">-4</text><text x="641" y="776">-2</text><text x="725" y="776">0</text><text x="808" y="776">2</text><text x="892" y="776">4</text>
<text x="720" y="799" font-size="19">Energy (eV)</text>
<text transform="translate(499,645) rotate(-90)" font-size="19">PDOS (a.u.)</text>
</g>
<g stroke-width="3">
<line x1="831" y1="528" x2="865" y2="528" stroke="#62c6e2"/>
<line x1="831" y1="548" x2="865" y2="548" stroke="#e2504a"/>
<line x1="831" y1="566" x2="865" y2="566" stroke="#3fb07e"/>
<line x1="831" y1="585" x2="865" y2="585" stroke="#555"/>
</g>
<g class="sans" font-size="15" font-weight="bold">
<text x="866" y="534" fill="#6ccbe5">Total</text>
<text x="866" y="554" fill="#e2504a">V</text>
<text x="866" y="572" fill="#3fb07e">O</text>
<text x="866" y="591" fill="#555">Co</text>
</g>
<text x="528" y="744" class="sans" font-size="17" font-weight="bold" fill="#111">ε<tspan font-size="12" dy="4">d</tspan><tspan dy="-4"> = −1.77 eV</tspan></text>
<text x="895" y="742" class="sans" font-size="21" fill="#111" text-anchor="end">Co clusters/V<tspan font-size="14" dy="5">2</tspan><tspan dy="-5">O</tspan><tspan font-size="14" dy="5">5</tspan></text>
</svg>
</body></html>
